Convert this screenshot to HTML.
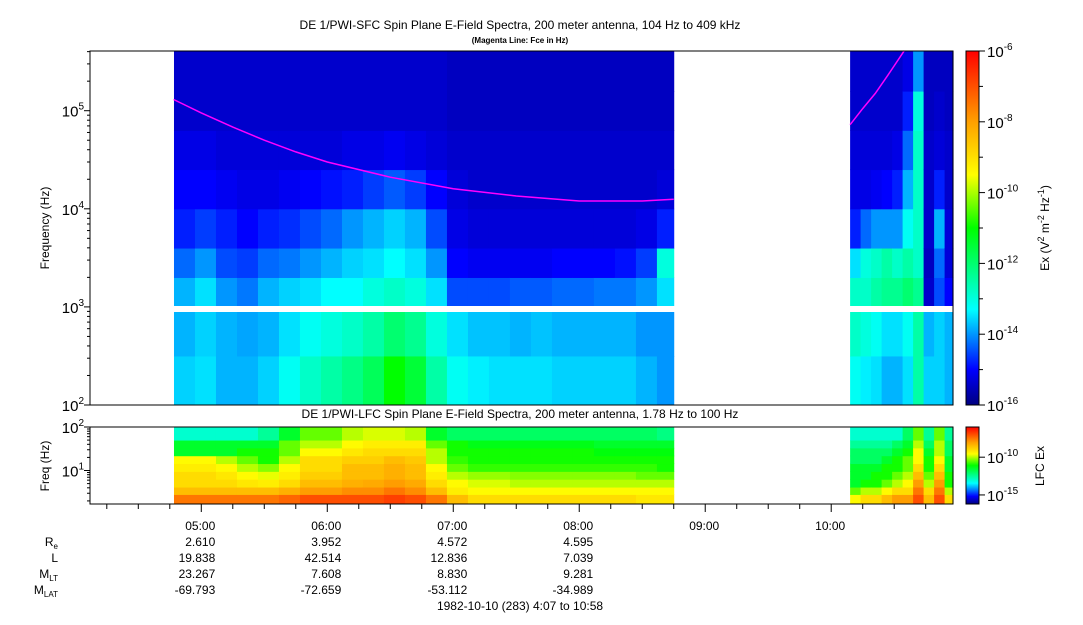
<!DOCTYPE html>
<html><head><meta charset="utf-8">
<style>
body{margin:0;background:#fff;width:1083px;height:620px;overflow:hidden}
svg text{font-family:"Liberation Sans",sans-serif;fill:#000}
</style></head>
<body>
<svg id="c" width="1083" height="620" xmlns="http://www.w3.org/2000/svg">
<text x="520" y="29" font-size="12" text-anchor="middle">DE 1/PWI-SFC  Spin Plane E-Field Spectra, 200 meter antenna, 104 Hz to 409 kHz</text>
<text x="520" y="43" font-size="8" font-weight="bold" text-anchor="middle">(Magenta Line: Fce in Hz)</text>
<text x="520" y="418" font-size="12" text-anchor="middle">DE 1/PWI-LFC  Spin Plane E-Field Spectra, 200 meter antenna, 1.78 Hz to 100 Hz</text>
<g id="sfc"></g>
<g id="lfc"></g>
<rect x="172" y="306" width="781" height="6" fill="#fff"/>
<g id="axes"></g>
<text transform="translate(49,228) rotate(-90)" font-size="12" text-anchor="middle">Frequency (Hz)</text>
<text transform="translate(49,466) rotate(-90)" font-size="12" text-anchor="middle">Freq (Hz)</text>
<text transform="translate(1049,228) rotate(-90)" font-size="12" text-anchor="middle">Ex (V<tspan font-size="9" dy="-5">2</tspan><tspan dy="5"> m</tspan><tspan font-size="9" dy="-5">-2</tspan><tspan dy="5"> Hz</tspan><tspan font-size="9" dy="-5">-1</tspan><tspan dy="5">)</tspan></text>
<text transform="translate(1044,466) rotate(-90)" font-size="12" text-anchor="middle">LFC Ex</text>
<g font-size="12" text-anchor="end">
<text x="58" y="546">R<tspan font-size="8" dy="3">e</tspan></text>
<text x="58" y="562">L</text>
<text x="58" y="578">M<tspan font-size="8" dy="3">LT</tspan></text>
<text x="58" y="594">M<tspan font-size="8" dy="3">LAT</tspan></text>
</g>
<g id="eph" font-size="12" text-anchor="end"></g>
<text x="520" y="610" font-size="12" text-anchor="middle">1982-10-10 (283) 4:07 to 10:58</text>
<defs>
<linearGradient id="cm" x1="0" y1="1" x2="0" y2="0">
<stop offset="0" stop-color="#000080"/><stop offset="0.1" stop-color="#0000ff"/><stop offset="0.27" stop-color="#00ffff"/><stop offset="0.5" stop-color="#00ff00"/><stop offset="0.65" stop-color="#ffff00"/><stop offset="0.8" stop-color="#ffa000"/><stop offset="1" stop-color="#ff0000"/>
</linearGradient>
</defs>
<rect x="966" y="51" width="13" height="354" fill="url(#cm)"/>
<rect x="966" y="427" width="13" height="77" fill="url(#cm)"/>
<g id="cbt" font-size="12"></g>
</svg>
<script>
// ---- data ----
const sfcFreqEdges=[2,2.5,2.97,3.3,3.6,4.0,4.4,4.8,5.2,5.61];
const seg1Start=4.7833, seg1Step=1/6;
const sfcSeg1=[
[-13.6,-13.8,-13.8,-14.3,-14.8,-15,-15.2,-15.4,-15.4],
[-13.5,-13.6,-13.5,-14,-14.6,-15,-15.2,-15.4,-15.4],
[-13.8,-13.8,-14,-14.5,-14.8,-15.1,-15.3,-15.4,-15.4],
[-13.8,-13.9,-14.2,-14.6,-15,-15.2,-15.3,-15.4,-15.4],
[-13.6,-13.8,-13.8,-14.3,-14.8,-15.2,-15.3,-15.4,-15.4],
[-13.2,-13.5,-13.6,-14.2,-14.7,-15.1,-15.3,-15.4,-15.4],
[-12.8,-13.2,-13.5,-14,-14.5,-15,-15.3,-15.4,-15.4],
[-12.5,-13,-13.3,-13.8,-14.3,-14.9,-15.3,-15.4,-15.4],
[-12.2,-12.8,-13.3,-13.6,-14,-14.8,-15.2,-15.4,-15.4],
[-11.8,-12.5,-13,-13.5,-13.8,-14.6,-15.2,-15.4,-15.4],
[-11,-12,-12.8,-13.3,-13.6,-14.4,-15.1,-15.4,-15.4],
[-11.5,-12.3,-13,-13.5,-13.8,-14.6,-15.2,-15.4,-15.4],
[-12.5,-13,-13.5,-14,-14.5,-15,-15.3,-15.4,-15.4],
[-13.2,-13.5,-14.5,-15,-15.2,-15.3,-15.4,-15.5,-15.5],
[-13.4,-13.7,-14.5,-15.1,-15.3,-15.4,-15.4,-15.5,-15.5],
[-13.5,-13.7,-14.5,-15.1,-15.3,-15.4,-15.4,-15.5,-15.5],
[-13.5,-13.8,-14.4,-15.1,-15.3,-15.4,-15.4,-15.5,-15.5],
[-13.5,-13.7,-14.4,-15.1,-15.3,-15.4,-15.4,-15.5,-15.5],
[-13.6,-13.8,-14.3,-15,-15.3,-15.4,-15.4,-15.5,-15.5],
[-13.6,-13.8,-14.3,-15,-15.3,-15.4,-15.4,-15.5,-15.5],
[-13.6,-13.8,-14.2,-15,-15.3,-15.4,-15.4,-15.5,-15.5],
[-13.6,-13.8,-14.2,-14.9,-15.3,-15.4,-15.4,-15.5,-15.5],
[-13.8,-14,-14,-14.6,-15.2,-15.4,-15.4,-15.5,-15.5],
[-14,-14,-13.5,-13,-14.8,-15.3,-15.4,-15.5,-15.5]];
const seg1End=8.75;
const seg2Start=10.15, seg2Step=1/12, seg2End=10.967;
const sfcSeg2=[
[-13.2,-12.8,-12.8,-13.5,-14.8,-15.2,-15.3,-15.4,-15.4],
[-13.4,-13,-12.8,-13,-14.3,-15.2,-15.3,-15.4,-15.4],
[-13.5,-13.2,-12.5,-12.8,-14,-15.1,-15.3,-15.4,-15.4],
[-13.8,-13.5,-12.3,-12.5,-14,-15,-15.3,-15.4,-15.4],
[-13.8,-13.5,-12.3,-12.8,-14,-14.8,-15.2,-15.4,-15.4],
[-13.5,-13.2,-12,-12.5,-13.2,-13.8,-14.3,-14.8,-15.2],
[-12.5,-12.5,-12.3,-12.8,-12.8,-12.8,-12.8,-13,-14],
[-13.6,-13.8,-15.4,-15.5,-15.4,-15.4,-15.4,-15.5,-15.5],
[-13.6,-13.6,-14.5,-14.3,-13.8,-14.8,-15.3,-15.4,-15.5],
[-13.8,-13.8,-15,-15.3,-15.3,-15.4,-15.4,-15.5,-15.5]];
const lfcFreqEdges=[0.23,0.45,0.62,0.8,0.98,1.16,1.34,1.52,1.7,2.0];
const lfcSeg1=[
[-7.5,-8.5,-9,-9,-9.3,-9.5,-11.5,-11.5,-13],
[-7.5,-8.5,-9,-9,-9.3,-9.5,-11.5,-11.5,-13],
[-7.5,-8.5,-9,-9.2,-9.5,-10,-11.5,-11.5,-13],
[-7.5,-8.5,-9.2,-9.5,-10,-10.5,-11,-11.5,-13],
[-7.5,-8.5,-9.3,-9.7,-10.3,-11,-11,-11.5,-12.5],
[-7.3,-8.3,-9,-9.3,-9.5,-10,-10.5,-10.5,-11.5],
[-7,-8,-8.5,-8.8,-9,-9,-9.5,-10,-10.5],
[-7,-8,-8.5,-8.8,-9,-9,-9.5,-10,-10.5],
[-7,-7.8,-8.3,-8.5,-8.5,-8.8,-9.2,-9.5,-10],
[-7,-7.8,-8.2,-8.5,-8.5,-8.8,-9,-9.3,-9.8],
[-6.8,-7.5,-8,-8.3,-8.3,-8.5,-9,-9.3,-9.8],
[-7,-7.8,-8.2,-8.5,-8.5,-8.7,-9,-9.3,-10],
[-7.5,-8.5,-9,-9.3,-9.5,-10,-10,-10.5,-11.5],
[-8.5,-9.3,-9.5,-10,-10.5,-10.8,-11,-11,-12],
[-9,-9.5,-9.8,-10.2,-10.8,-11,-11,-11.3,-12],
[-9,-9.5,-9.8,-10.2,-10.8,-11,-11,-11.3,-12],
[-9,-9.5,-10,-10.3,-10.8,-11,-11,-11.3,-12],
[-9,-9.5,-10,-10.3,-10.8,-11,-11,-11.3,-12],
[-9,-9.5,-10,-10.3,-10.8,-11,-11,-11.3,-12],
[-9,-9.5,-10,-10.3,-10.8,-11,-11,-11.3,-12],
[-9,-9.5,-10,-10.3,-10.8,-11,-11.2,-11.5,-12],
[-9,-9.5,-10,-10.3,-10.8,-11,-11.2,-11.5,-12],
[-9.2,-9.5,-10,-10.5,-10.8,-11,-11.2,-11.5,-12],
[-9.2,-9.5,-10,-10.5,-11,-11,-11.2,-11.5,-12.3]];
const lfcSeg2=[
[-9.5,-10.5,-11.5,-11.5,-11.5,-12,-12,-12.5,-13],
[-9,-10,-11,-11.5,-11.5,-12,-12,-12.5,-13],
[-9,-10,-11,-11,-11.5,-12,-12,-12.5,-13],
[-8.5,-9.5,-10.5,-11,-11,-11.5,-12,-12.5,-13],
[-8,-9,-10,-10.5,-11,-11,-11.5,-12,-13],
[-8,-9,-9.5,-10,-10.5,-10.5,-11,-11.5,-12],
[-7,-7.5,-8,-8.5,-9,-9.5,-9.5,-10,-10.5],
[-8.5,-9,-10,-10.5,-11,-11,-11.5,-12,-12.5],
[-7,-7.5,-8,-8.5,-9,-9.5,-10,-10,-10.5],
[-9,-10,-11,-11,-11.5,-11.5,-12,-12,-12.5]];
const fceTimes1=[4.78,5.0,5.25,5.5,5.75,6.0,6.5,7.0,7.5,8.0,8.5,8.75];
const fceVals1=[130e3,95e3,68e3,50e3,38e3,30e3,21e3,16e3,13.5e3,12e3,12e3,12.5e3];
const fceTimes2=[10.15,10.25,10.35,10.45,10.58];
const fceVals2=[72e3,105e3,150e3,230e3,409e3];
const hourTicks=[5,6,7,8,9,10];
const hourLabels=["05:00","06:00","07:00","08:00","09:00","10:00"];
const ephRe=["2.610","3.952","4.572","4.595"];
const ephL=["19.838","42.514","12.836","7.039"];
const ephMLT=["23.267","7.608","8.830","9.281"];
const ephMLAT=["-69.793","-72.659","-53.112","-34.989"];

// ---- scales ----
const NS="http://www.w3.org/2000/svg";
const X=t=>90+(t-(4+7/60))*(863/(10+58/60-4-7/60));
const Ys=l=>405-(l-2)*98.1;
const Yl=l=>504-(l-0.23)*(77/1.77);
const stops=[[0,[0,0,128]],[0.1,[0,0,255]],[0.27,[0,255,255]],[0.5,[0,255,0]],[0.65,[255,255,0]],[0.8,[255,160,0]],[1,[255,0,0]]];
function cmap(v,lo,hi){let t=Math.max(0,Math.min(1,(v-lo)/(hi-lo)));
 for(let i=1;i<stops.length;i++){if(t<=stops[i][0]){const a=stops[i-1],b=stops[i];const f=(t-a[0])/(b[0]-a[0]);
  return 'rgb('+a[1].map((c,k)=>Math.round(c+(b[1][k]-c)*f)).join(',')+')';}}return 'rgb(255,0,0)';}
function mk(tag,at,parent){const e=document.createElementNS(NS,tag);for(const k in at)e.setAttribute(k,at[k]);parent.appendChild(e);return e;}
function heat(g,mat,t0,step,tEnd,edges,Y,lo,hi,nm){
 mat.forEach((col,i)=>{const ta=t0+i*step,tb=Math.min(t0+(i+1)*step,tEnd);
  col.forEach((v,j)=>{const r=mk('rect',{x:X(ta),y:Y(edges[j+1]),width:X(tb)-X(ta)+0.5,height:Y(edges[j])-Y(edges[j+1])+0.5,fill:cmap(v,lo,hi)},g);
   
   });});}
const gs=document.getElementById('sfc'),gl=document.getElementById('lfc');
heat(gs,sfcSeg1,seg1Start,seg1Step,seg1End,sfcFreqEdges,Ys,-16,-6,'sfc-cell');
heat(gs,sfcSeg2,seg2Start,seg2Step,seg2End,sfcFreqEdges,Ys,-16,-6,'sfc-cell');
heat(gl,lfcSeg1,seg1Start,seg1Step,seg1End,lfcFreqEdges,Yl,-16.2,-6,'lfc-cell');
heat(gl,lfcSeg2,seg2Start,seg2Step,seg2End,lfcFreqEdges,Yl,-16.2,-6,'lfc-cell');
function fceLine(ts,vs){const p=ts.map((t,i)=>X(t).toFixed(1)+','+Ys(Math.log10(vs[i])).toFixed(1)).join(' ');
 const l=mk('polyline',{points:p,fill:'none',stroke:'#ff00ff','stroke-width':1.5},gs);
 
 }
fceLine(fceTimes1,fceVals1);fceLine(fceTimes2,fceVals2);

// ---- axes ----
const ax=document.getElementById('axes');
mk('rect',{x:90,y:51,width:863,height:354,fill:'none',stroke:'#000','stroke-width':1},ax);
mk('rect',{x:90,y:427,width:863,height:77,fill:'none',stroke:'#000','stroke-width':1},ax);
for(let d=2;d<=5;d++)for(let m=1;m<10;m++){const l=d+Math.log10(m);if(l>5.61)break;
 const y=Ys(l);mk('line',{x1:90-(m==1?6:3),x2:90,y1:y,y2:y,stroke:'#000'},ax);
 if(m==1){const t=mk('text',{x:84,y:y+6,'font-size':15,'text-anchor':'end'},ax);t.textContent='10';const s=mk('tspan',{'font-size':10,dy:-7},t);s.textContent=d;
  
  }}
for(let d=0;d<=2;d++)for(let m=1;m<10;m++){const l=d+Math.log10(m);if(l<0.23||l>2)continue;
 const y=Yl(l);mk('line',{x1:90-(m==1?6:3),x2:90,y1:y,y2:y,stroke:'#000'},ax);
 if(m==1&&d>0){const t=mk('text',{x:84,y:y+6,'font-size':15,'text-anchor':'end'},ax);t.textContent='10';const s=mk('tspan',{'font-size':10,dy:-7},t);s.textContent=d;
  
  }}
for(let q=17;q<=43;q++){const t=q/4;if(t<4.12||t>10.96)continue;const x=X(t);const maj=q%4==0;
 mk('line',{x1:x,x2:x,y1:504,y2:504+(maj?8:5),stroke:'#000'},ax);}
const eph=document.getElementById('eph');
hourTicks.forEach((h,i)=>{const x=X(h)+14;
 const t=mk('text',{x:x,y:530},eph);t.textContent=hourLabels[i];
 
 
 if(i<ephRe.length){[ephRe,ephL,ephMLT,ephMLAT].forEach((arr,k)=>{const e=mk('text',{x:x,y:546+16*k},eph);e.textContent=arr[i];});}});
// colorbar ticks
const cb=document.getElementById('cbt');
for(let e=-16;e<=-6;e++){const y=405-(e+16)*35.4;mk('line',{x1:979,x2:e%2==0?985:983,y1:y,y2:y,stroke:'#000'},cb);
 if(e%2==0){const t=mk('text',{x:987,y:y+6,'font-size':15},cb);t.textContent='10';const s=mk('tspan',{'font-size':10,dy:-7},t);s.textContent=e;}}
[-15,-10].forEach(e=>{const y=504-(e+16.2)*7.55;mk('line',{x1:979,x2:985,y1:y,y2:y,stroke:'#000'},cb);
 const t=mk('text',{x:987,y:y+6,'font-size':15},cb);t.textContent='10';const s=mk('tspan',{'font-size':10,dy:-7},t);s.textContent=e;});
mk('rect',{x:966,y:51,width:13,height:354,fill:'none',stroke:'#000'},cb);
mk('rect',{x:966,y:427,width:13,height:77,fill:'none',stroke:'#000'},cb);
</script>
</body></html>
